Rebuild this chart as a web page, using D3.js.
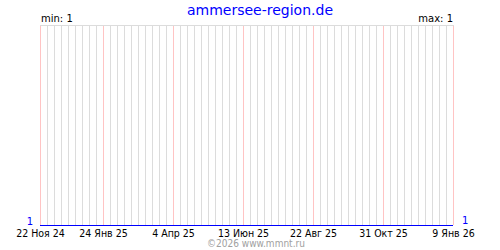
<!DOCTYPE html>
<html>
<head>
<meta charset="utf-8">
<script src="https://cdn.jsdelivr.net/npm/d3@7"></script>
<style>
  body { margin: 0; background: #fff; }
  svg { display: block; }
</style>
</head>
<body>
<script>
// series: dates and values (min 1, max 1)
var dates  = ["2024-11-22", "2026-01-09"];
var values = [1, 1];
// labelled dates on the x axis
var labelDates = ["2024-11-22", "2025-01-24", "2025-04-04", "2025-06-13", "2025-08-22", "2025-10-31", "2026-01-09"];
var monthNames = ["Янв", "Фев", "Мар", "Апр", "Май", "Июн", "Июл", "Авг", "Сен", "Окт", "Ноя", "Дек"];
var title = "ammersee-region.de";
var footer = "\u00a92026 www.mmnt.ru";

var width = 500, height = 250,
    margin = {top: 25, right: 47, bottom: 25, left: 40};

var parse = d3.utcParse("%Y-%m-%d");
var data = dates.map(function(d, i) { return {date: parse(d), value: values[i]}; });
var labels = labelDates.map(parse);

var svg = d3.select("body").append("svg")
    .attr("width", width)
    .attr("height", height)
    .style("font-family", "'DejaVu Sans', sans-serif");

var x = d3.scaleUtc()
    .domain(d3.extent(data, function(d) { return d.date; }))
    .range([margin.left, width - margin.right]);

var yMin = d3.min(values), yMax = d3.max(values);
var y = d3.scaleLinear()
    .domain([yMin, yMax > yMin ? yMax : yMin + 1])
    .range([height - margin.bottom, margin.top]);

// weekly grid
var weeks = d3.utcFriday.range(x.domain()[0], d3.utcDay.offset(x.domain()[1], 1));
var isMajor = function(d) {
    return labels.some(function(l) { return +l === +d; });
};

svg.append("g").selectAll("line")
    .data(weeks)
    .join("line")
    .attr("x1", function(d) { return Math.round(x(d)) + 0.5; })
    .attr("x2", function(d) { return Math.round(x(d)) + 0.5; })
    .attr("y1", margin.top)
    .attr("y2", height - margin.bottom)
    .style("stroke", function(d) { return isMajor(d) ? "#ffc4c4" : "#dcdcdc"; })
    .style("stroke-width", 1);

svg.append("line")
    .attr("x1", margin.left)
    .attr("x2", width - margin.right + 1)
    .attr("y1", margin.top + 0.5)
    .attr("y2", margin.top + 0.5)
    .style("stroke", "#dcdcdc");

// series line
var valueline = d3.line()
    .x(function(d) { return Math.round(x(d.date)); })
    .y(function(d) { return Math.round(y(d.value)) + 0.5; });

svg.append("path")
    .datum(data)
    .attr("d", valueline)
    .style("fill", "none")
    .style("stroke", "#0000ff")
    .style("stroke-width", 1);

// x labels
var fmt = function(d) {
    return d.getUTCDate() + " " + monthNames[d.getUTCMonth()] + " " + d3.utcFormat("%y")(d);
};
var xAxis = d3.axisBottom(x).tickValues(labels).tickFormat(fmt).tickSize(0).tickPadding(0);

svg.append("g")
    .attr("transform", "translate(0," + (height - margin.bottom) + ")")
    .call(xAxis)
    .call(function(g) { g.select(".domain").remove(); })
    .selectAll("text")
    .attr("dy", null)
    .attr("y", 12)
    .attr("fill", "#000")
    .style("font-family", "'DejaVu Sans Condensed', 'DejaVu Sans', sans-serif")
    .style("font-size", "10.5px");

// value labels at ends
svg.append("text")
    .attr("x", margin.left - 7)
    .attr("y", y(yMin) - 0.5)
    .attr("text-anchor", "end")
    .attr("fill", "#0000ff")
    .style("font-size", "10px")
    .text(yMin);

svg.append("text")
    .attr("x", width - margin.right + 9)
    .attr("y", y(yMin) - 1)
    .attr("text-anchor", "start")
    .attr("fill", "#0000ff")
    .style("font-size", "10px")
    .text(values[values.length - 1]);

// min / max
svg.append("text")
    .attr("x", margin.left + 1)
    .attr("y", 22)
    .attr("fill", "#000")
    .style("font-size", "10px")
    .text("min: " + yMin);

svg.append("text")
    .attr("x", width - margin.right)
    .attr("y", 22)
    .attr("text-anchor", "end")
    .attr("fill", "#000")
    .style("font-size", "10px")
    .text("max: " + yMax);

// title
svg.append("text")
    .attr("x", 260)
    .attr("y", 15)
    .attr("text-anchor", "middle")
    .attr("fill", "#0000ff")
    .style("font-size", "14px")
    .text(title);

// footer
svg.append("text")
    .attr("x", 256)
    .attr("y", 247)
    .attr("text-anchor", "middle")
    .attr("fill", "#a0a0a0")
    .style("font-family", "'DejaVu Sans Condensed', 'DejaVu Sans', sans-serif")
    .style("font-size", "10px")
    .text(footer);
</script>
</body>
</html>
